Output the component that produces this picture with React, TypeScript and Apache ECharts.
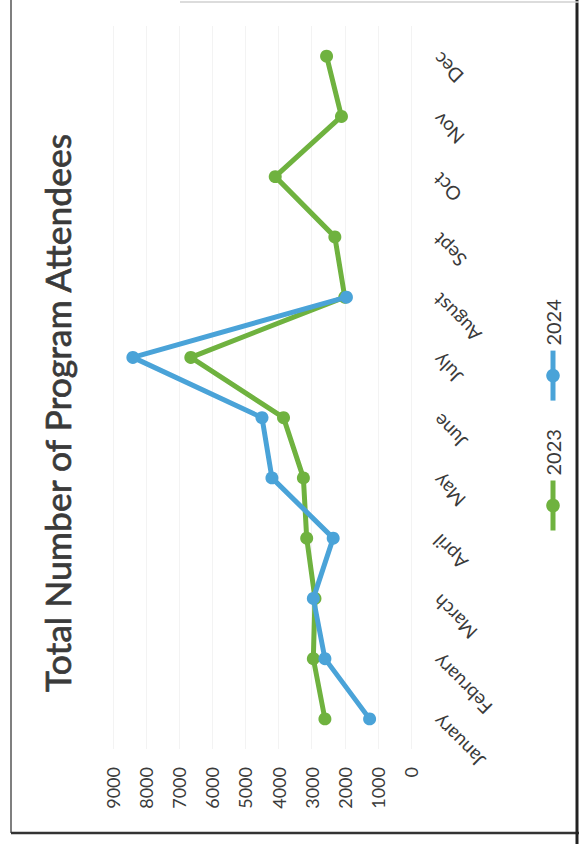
import React, { useEffect, useRef } from "react";
import * as echarts from "echarts";

// Monthly program attendance, two years
const months = ["January", "February", "March", "April", "May", "June", "July", "August", "Sept", "Oct", "Nov", "Dec"];
const attendees2023 = [2600, 2950, 2900, 3150, 3250, 3850, 6650, 2000, 2300, 4100, 2100, 2550];
const attendees2024 = [1250, 2600, 2950, 2350, 4200, 4500, 8400, 1950, null, null, null, null];
const valueTicks = { min: 0, max: 9000, interval: 1000 };

const titleText = "Total Number of Program Attendees";

const GREEN = "#6fb23f";
const BLUE = "#4aa3d8";
const TEXT = "#3a3a3a";
const FONT = "Lato, 'Open Sans', sans-serif";

// The printed page is landscape and sits rotated a quarter turn on the sheet.
const PAGE_W = 844;
const PAGE_H = 579;

export default function App() {
  const ref = useRef<HTMLDivElement>(null);

  useEffect(() => {
    if (!ref.current) return;
    const chart = echarts.init(ref.current, undefined, { renderer: "svg", width: PAGE_W, height: PAGE_H });
    chart.setOption({
      animation: false,
      backgroundColor: "#ffffff",
      title: {
        text: titleText,
        left: 147,
        top: 34,
        textStyle: {
          fontFamily: FONT,
          fontSize: 35.5,
          fontWeight: "normal",
          color: TEXT,
          textBorderColor: TEXT,
          textBorderWidth: 0.7,
        },
      },
      legend: {
        data: ["2023", "2024"],
        left: 306,
        top: 538,
        itemWidth: 50,
        itemHeight: 17,
        itemGap: 26,
        lineStyle: { width: 5 },
        textStyle: { fontFamily: FONT, fontSize: 20, color: TEXT },
      },
      grid: { left: 95, right: 26, top: 113, bottom: 168, containLabel: false },
      xAxis: {
        type: "category",
        data: months,
        boundaryGap: true,
        axisLine: { show: false },
        axisTick: { show: false },
        axisLabel: { rotate: 45, margin: 25, fontFamily: FONT, fontSize: 19, color: TEXT },
      },
      yAxis: {
        type: "value",
        min: valueTicks.min,
        max: valueTicks.max,
        interval: valueTicks.interval,
        axisLine: { show: false },
        axisTick: { show: false },
        axisLabel: {
          margin: 18,
          fontFamily: FONT,
          fontSize: 18,
          color: TEXT,
          formatter: (v: number) => String(v),
        },
        splitLine: { lineStyle: { color: "#f3f3f3", width: 1 } },
      },
      series: [
        {
          name: "2023",
          type: "line",
          data: attendees2023,
          symbol: "circle",
          symbolSize: 13,
          lineStyle: { color: GREEN, width: 5 },
          itemStyle: { color: GREEN },
          z: 2,
        },
        {
          name: "2024",
          type: "line",
          data: attendees2024,
          symbol: "circle",
          symbolSize: 13,
          connectNulls: false,
          lineStyle: { color: BLUE, width: 5 },
          itemStyle: { color: BLUE },
          z: 3,
        },
      ],
      graphic: [
        // edges of the printed sheet
        { type: "line", shape: { x1: 11, y1: 11, x2: PAGE_W, y2: 11 }, style: { stroke: "#555555", lineWidth: 1.5 } },
        { type: "line", shape: { x1: 11, y1: 11, x2: 11, y2: PAGE_H }, style: { stroke: "#333333", lineWidth: 2.5 } },
        { type: "line", shape: { x1: 0, y1: 577, x2: PAGE_W, y2: 577 }, style: { stroke: "#222222", lineWidth: 3 } },
        { type: "line", shape: { x1: 842, y1: 180, x2: 842, y2: PAGE_H }, style: { stroke: "#d0d0d0", lineWidth: 1.5 } },
      ],
    });
    return () => chart.dispose();
  }, []);

  return (
    <div style={{ position: "fixed", left: 0, top: 0, width: 579, height: 844, overflow: "hidden", background: "#ffffff" }}>
      <div
        ref={ref}
        style={{
          position: "absolute",
          left: 0,
          top: 0,
          width: PAGE_W,
          height: PAGE_H,
          transformOrigin: "0 0",
          transform: `translateY(${PAGE_W}px) rotate(-90deg)`,
        }}
      />
    </div>
  );
}
